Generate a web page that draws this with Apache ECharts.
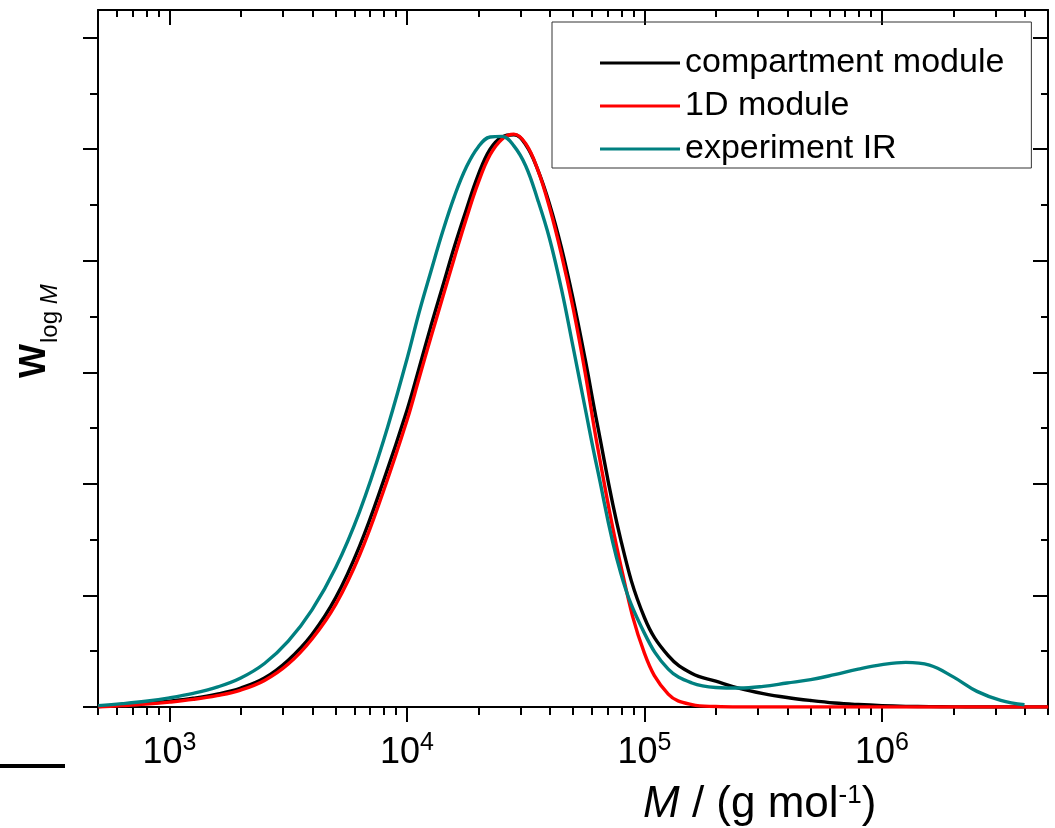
<!DOCTYPE html>
<html><head><meta charset="utf-8">
<script src="https://cdn.jsdelivr.net/npm/echarts@6/dist/echarts.min.js"></script>
<style>html,body{margin:0;padding:0;background:#fff}#c{width:1055px;height:828px}</style>
</head><body><div id="c"></div><script>
// x = log10(M / (g mol^-1))
const logM = [2.7,2.8,2.9,3.0,3.1,3.2,3.3,3.4,3.5,3.6,3.7,3.8,3.9,
  4.0,4.05,4.1,4.15,4.2,4.25,4.3,4.35,4.4,4.45,4.5,4.55,4.6,4.65,4.7,4.75,4.8,
  4.9,5.0,5.1,5.2,5.3,5.4,5.5,5.6,5.7,5.8,5.9,6.0,6.1,6.2,6.3,6.4,6.5,6.6,6.7];
const compartmentModule = [0.005,0.018,0.033,0.052,0.078,0.115,0.17,0.26,0.42,0.65,0.98,1.44,2.02,
  2.66,3.03,3.41,3.77,4.13,4.46,4.77,5.00,5.11,5.13,5.04,4.82,4.51,4.12,3.65,3.12,2.55,
  1.50,0.80,0.46,0.30,0.232,0.167,0.12,0.085,0.058,0.036,0.022,0.012,0.006,0.003,0.001,0,0,0,0];
const oneDModule = [0.0,0.012,0.026,0.044,0.068,0.102,0.152,0.238,0.385,0.61,0.92,1.36,1.93,
  2.57,2.94,3.31,3.67,4.03,4.38,4.70,4.95,5.09,5.135,5.05,4.82,4.48,4.06,3.57,3.00,2.36,
  1.27,0.48,0.116,0.022,0.004,0,0,0,0,0,0,0,0,0,0,0,0,0,0];
const experimentIR = [0.012,0.03,0.052,0.082,0.122,0.178,0.26,0.39,0.59,0.87,1.25,1.75,2.38,
  3.12,3.53,3.90,4.26,4.58,4.84,5.02,5.11,5.115,5.03,4.85,4.55,4.20,3.75,3.22,2.68,2.15,
  1.20,0.66,0.34,0.215,0.175,0.17,0.185,0.215,0.245,0.29,0.34,0.38,0.40,0.375,0.27,0.14,0.06,0.02,null];
const seriesNames = ['compartment module','1D module','experiment IR'];
const seriesColors = ['#000000','#ff0000','#008080'];
const xMajorTicks = [3,4,5,6];
const yMajorTicks = [0,1,2,3,4,5,6];
const yMinorTicks = [0.5,1.5,2.5,3.5,4.5,5.5];
const xMin = Math.log10(500), xMax = Math.log10(5e6);
const yMin = 0, yMax = 6.248;

const xMinorTicks = [];
for (let n = 2; n <= 6; n++) for (let k = 2; k <= 9; k++) {
  const v = Math.log10(k * Math.pow(10, n));
  if (v >= xMin - 1e-9 && v <= xMax + 1e-9) xMinorTicks.push(v);
}
const FONT = "'Liberation Sans', Arial, Helvetica, sans-serif";
const toPairs = arr => logM.map((x, i) => [x, arr[i]]);

function xAx(pos, ticks, len, inside, line, labels) {
  return {
    type: 'value', position: pos, min: xMin, max: xMax,
    axisLine: {show: line, onZero: false, lineStyle: {color: '#000', width: 2}},
    axisTick: {show: true, inside: inside, length: len, customValues: ticks, lineStyle: {color: '#000', width: 2}},
    axisLabel: labels ? {
      show: true, customValues: ticks, margin: 24,
      formatter: v => '{b|10}{s|' + Math.round(v) + '}',
      rich: {
        b: {fontSize: 36, lineHeight: 36, fontFamily: FONT, color: '#000', verticalAlign: 'top', padding: [4,0,0,0]},
        s: {fontSize: 25, lineHeight: 25, fontFamily: FONT, color: '#000', verticalAlign: 'top'}
      }
    } : {show: false},
    splitLine: {show: false}
  };
}
function yAx(pos, ticks, len, inside, line) {
  return {
    type: 'value', position: pos, min: yMin, max: yMax,
    axisLine: {show: line, onZero: false, lineStyle: {color: '#000', width: 2}},
    axisTick: {show: true, inside: inside, length: len, customValues: ticks, lineStyle: {color: '#000', width: 2}},
    axisLabel: {show: false, customValues: ticks},
    splitLine: {show: false}
  };
}

const chart = echarts.init(document.getElementById('c'), null, {renderer: 'canvas'});
chart.setOption({
  animation: false,
  backgroundColor: '#fff',
  grid: {left: 98, right: 7, top: 10, bottom: 121, containLabel: false},
  xAxis: [
    xAx('bottom', xMajorTicks, 15, false, true, true),
    xAx('bottom', xMinorTicks, 8, false, false, false),
    xAx('top', xMajorTicks, 15, true, true, false),
    xAx('top', xMinorTicks, 7, true, false, false)
  ],
  yAxis: [
    yAx('left', yMajorTicks, 15, false, true),
    yAx('left', yMinorTicks, 8, false, false),
    yAx('right', yMajorTicks, 15, true, true),
    yAx('right', yMinorTicks, 7, true, false)
  ],
  legend: {
    orient: 'vertical', left: 552, top: 22,
    padding: [24, 27, 2, 48], itemGap: 9, itemWidth: 80, itemHeight: 3,
    icon: 'rect',
    borderColor: '#333', borderWidth: 1,
    textStyle: {fontSize: 34, lineHeight: 34, fontFamily: FONT, color: '#000'},
    data: seriesNames
  },
  series: [compartmentModule, oneDModule, experimentIR].map((arr, i) => ({
    name: seriesNames[i], type: 'line', xAxisIndex: 0, yAxisIndex: 0,
    data: toPairs(arr), symbol: 'none', smooth: 0.4,
    lineStyle: {color: seriesColors[i], width: 3.4}, itemStyle: {color: seriesColors[i]}
  })),
  graphic: [
    {type: 'text', x: 643, y: 783, style: {
      text: '{i|M}{n| / (g mol}{s|-1}{n|)}', fill: '#000',
      rich: {
        i: {fontSize: 44, lineHeight: 48, fontStyle: 'italic', fontFamily: FONT, verticalAlign: 'top'},
        n: {fontSize: 44, lineHeight: 48, fontFamily: FONT, verticalAlign: 'top'},
        s: {fontSize: 26, lineHeight: 26, fontFamily: FONT, verticalAlign: 'top'}
      }}},
    {type: 'text', x: 17, y: 378, rotation: Math.PI / 2, style: {
      text: '{w|W}{l|log }{m|M}', fill: '#000',
      rich: {
        w: {fontSize: 36, lineHeight: 36, fontWeight: 'bold', fontFamily: FONT, verticalAlign: 'top'},
        l: {fontSize: 24, lineHeight: 24, fontFamily: FONT, verticalAlign: 'top', padding: [21,0,0,1]},
        m: {fontSize: 24, lineHeight: 24, fontStyle: 'italic', fontFamily: FONT, verticalAlign: 'top', padding: [21,0,0,0]}
      }}},
    {type: 'line', shape: {x1: 0, y1: 766, x2: 65, y2: 766}, style: {stroke: '#000', lineWidth: 4}}
  ]
});
</script></body></html>
